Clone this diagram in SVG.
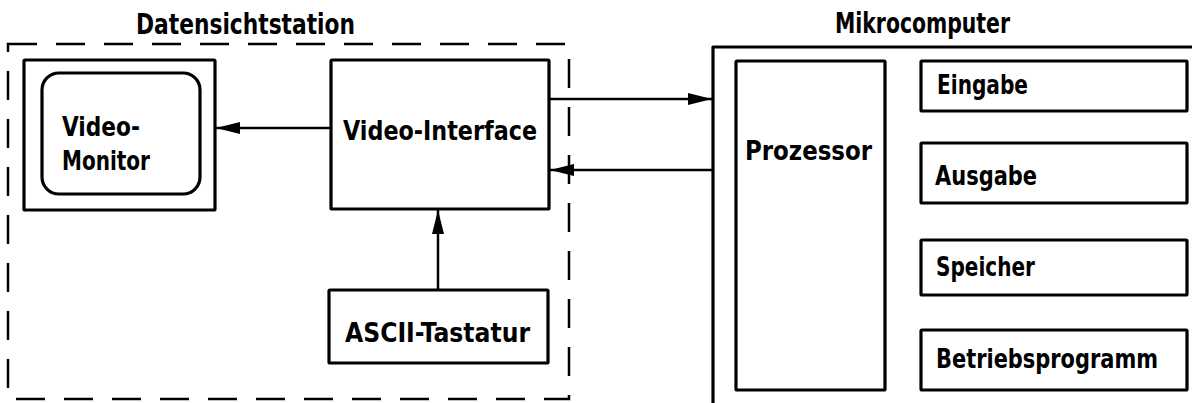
<svg xmlns="http://www.w3.org/2000/svg" width="1192" height="403" viewBox="0 0 1192 403">
<style>
.box{fill:none;stroke:#000;stroke-width:3.2;stroke-linejoin:round}
.dash{fill:none;stroke:#000;stroke-width:2.5;stroke-dasharray:29 19}
.conn{fill:none;stroke:#000;stroke-width:2.5}
text{font-family:"DejaVu Sans Condensed","DejaVu Sans",sans-serif;font-stretch:condensed;font-weight:bold;font-size:26px;fill:#000}
.hd{font-size:28px}
</style>
<defs>
<marker id="ah" markerWidth="26" markerHeight="14" refX="24" refY="6" orient="auto" markerUnits="userSpaceOnUse">
<path d="M0,0 L24,6 L0,12 Z" fill="#000"/>
</marker>
</defs>
<rect width="1192" height="403" fill="#fff"/>
<g id="datensichtstation">
<rect class="dash" x="8" y="44" width="561" height="355"/>
<text class="hd" x="136" y="34" textLength="219" lengthAdjust="spacingAndGlyphs">Datensichtstation</text>
</g>
<g id="video-monitor">
<rect class="box" x="24" y="60" width="191" height="150" rx="1"/>
<rect class="box" x="42" y="73" width="158" height="121" rx="17"/>
<text x="62" y="136" textLength="78" lengthAdjust="spacingAndGlyphs">Video-</text>
<text x="62" y="170" textLength="88" lengthAdjust="spacingAndGlyphs">Monitor</text>
</g>
<g id="video-interface">
<rect class="box" x="331" y="60" width="218" height="149" rx="1"/>
<text x="343" y="140" textLength="194" lengthAdjust="spacingAndGlyphs">Video-Interface</text>
</g>
<g id="ascii-tastatur">
<rect class="box" x="329" y="290" width="219" height="73" rx="1"/>
<text x="345" y="342" textLength="185" lengthAdjust="spacingAndGlyphs">ASCII-Tastatur</text>
</g>
<g id="mikrocomputer">
<path class="box" d="M1192,47 L713,47 L713,403"/>
<text class="hd" x="835" y="33" textLength="175" lengthAdjust="spacingAndGlyphs">Mikrocomputer</text>
</g>
<g id="prozessor">
<rect class="box" x="736" y="61" width="149" height="329" rx="1"/>
<text x="745" y="160" textLength="127" lengthAdjust="spacingAndGlyphs">Prozessor</text>
</g>
<g id="eingabe">
<rect class="box" x="921" y="61" width="266" height="50" rx="1"/>
<text x="937" y="94" textLength="91" lengthAdjust="spacingAndGlyphs">Eingabe</text>
</g>
<g id="ausgabe">
<rect class="box" x="921" y="143" width="266" height="60" rx="1"/>
<text x="935" y="185" textLength="102" lengthAdjust="spacingAndGlyphs">Ausgabe</text>
</g>
<g id="speicher">
<rect class="box" x="921" y="240" width="266" height="55" rx="1"/>
<text x="936" y="276" textLength="99" lengthAdjust="spacingAndGlyphs">Speicher</text>
</g>
<g id="betriebsprogramm">
<rect class="box" x="921" y="330" width="266" height="60" rx="1"/>
<text x="936" y="368" textLength="222" lengthAdjust="spacingAndGlyphs">Betriebsprogramm</text>
</g>
<g id="connectors">
<line class="conn" x1="331" y1="128" x2="216" y2="128" marker-end="url(#ah)"/>
<line class="conn" x1="438" y1="290" x2="438" y2="210" marker-end="url(#ah)"/>
<line class="conn" x1="549" y1="99" x2="712" y2="99" marker-end="url(#ah)"/>
<line class="conn" x1="713" y1="170" x2="550" y2="170" marker-end="url(#ah)"/>
</g>
</svg>
